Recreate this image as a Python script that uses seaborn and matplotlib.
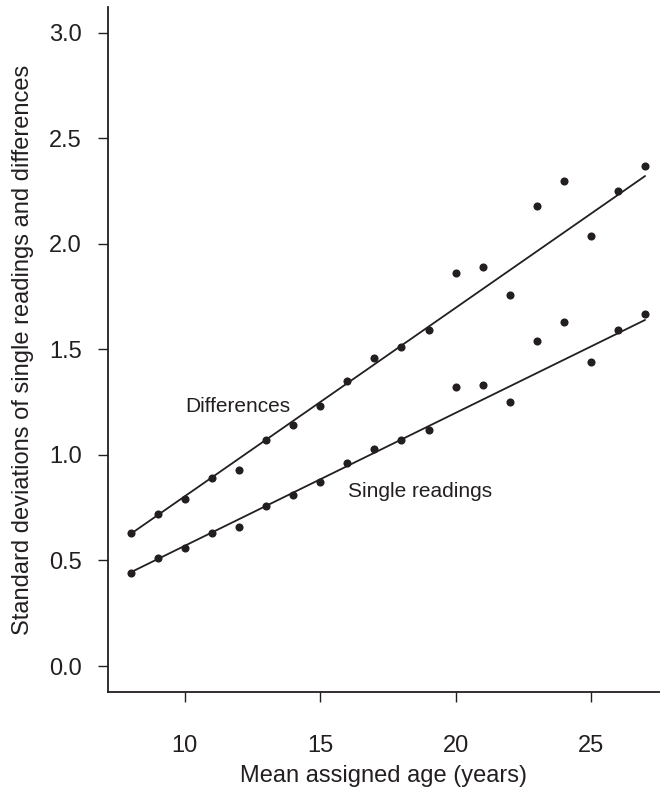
import numpy as np
import pandas as pd
import matplotlib
matplotlib.use('Agg')
import matplotlib.pyplot as plt
import seaborn as sns

age = [8, 9, 10, 11, 12, 13, 14, 15, 16, 17, 18, 19, 20, 21, 22, 23, 24, 25, 26, 27]
diff_sd = [0.63, 0.72, 0.79, 0.89, 0.93, 1.07, 1.14, 1.23, 1.35, 1.46, 1.51, 1.59,
           1.86, 1.89, 1.76, 2.18, 2.30, 2.04, 2.25, 2.37]
single_sd = [0.44, 0.51, 0.56, 0.63, 0.66, 0.76, 0.81, 0.87, 0.96, 1.03, 1.07, 1.12,
             1.32, 1.33, 1.25, 1.54, 1.63, 1.44, 1.59, 1.67]

# fitted lines at both ends
fit_age = [8, 27]
diff_fit = [0.626, 2.322]
single_fit = [0.444, 1.640]

df = pd.DataFrame({'age': age, 'diff': diff_sd, 'single': single_sd})
fit = pd.DataFrame({'age': fit_age, 'diff': diff_fit, 'single': single_fit})

sns.set_style('ticks')
plt.rcParams['font.family'] = ['Liberation Sans', 'DejaVu Sans']
ink = '#231f20'

fig = plt.figure(figsize=(6.6, 7.91), dpi=100)
ax = fig.add_axes([0.1636, 0.1252, 0.8364, 0.866])

for col in ['diff', 'single']:
    sns.lineplot(x='age', y=col, data=fit, ax=ax, color=ink, lw=1.3)
    sns.scatterplot(x='age', y=col, data=df, ax=ax, color=ink, s=34,
                    linewidth=0, zorder=3)

ax.set_xlim(7.16, 27.55)
ax.set_ylim(-0.123, 3.123)
ax.set_xticks([10, 15, 20, 25])
ax.set_yticks([0.0, 0.5, 1.0, 1.5, 2.0, 2.5, 3.0])
ax.set_yticklabels(['0.0', '0.5', '1.0', '1.5', '2.0', '2.5', '3.0'])
ax.tick_params(direction='out', length=7.2, width=1, colors=ink, labelsize=17)
ax.tick_params(axis='x', pad=23.5)
ax.tick_params(axis='y', pad=11.5)
for s in ['top', 'right']:
    ax.spines[s].set_visible(False)
for s in ['left', 'bottom']:
    ax.spines[s].set_color(ink)
    ax.spines[s].set_linewidth(1.3)

ax.set_xlabel('Mean assigned age (years)', fontsize=17, color=ink, labelpad=6)
ax.set_ylabel('Standard deviations of single readings and differences', fontsize=17,
              color=ink, labelpad=11)

ax.text(10.0, 1.232, 'Differences', fontsize=15, color=ink, va='center', ha='left')
ax.text(16.01, 0.825, 'Single readings', fontsize=15, color=ink, va='center', ha='left')

fig.savefig('out.png', dpi=100)
